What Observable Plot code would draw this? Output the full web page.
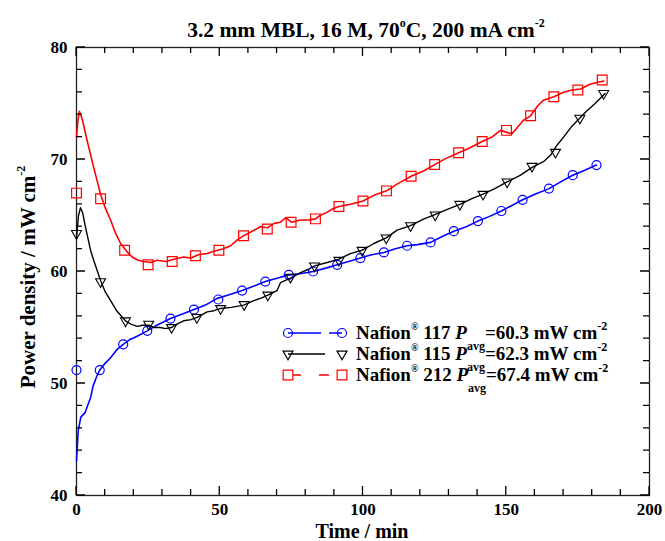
<!DOCTYPE html>
<html><head><meta charset="utf-8">
<script src="https://cdn.jsdelivr.net/npm/d3@7"></script>
<script src="https://cdn.jsdelivr.net/npm/@observablehq/plot@0.6"></script>
<style>body{margin:0;background:#fff} #chart svg{display:block}</style>
</head><body><div id="chart"></div>
<script>
// ---- data: [time (min), power density (mW cm-2)] ----
const n117Line = [[0,43.1],[0.3,44.5],[0.6,45.8],[1.5,47.0],[3,47.4],[3.7,47.9],[5,48.8],[5.7,49.7],[7,50.6],[8.1,51.2],[10,51.8],[11.9,52.3],[14,53.0],[16.3,53.5],[18.5,53.9],[21,54.2],[24.7,54.7],[28,55.2],[32.8,55.8],[37,56.2],[41,56.6],[45,57.0],[49.1,57.6],[53,57.9],[57.8,58.3],[62,58.7],[65.9,59.1],[70,59.4],[74.1,59.7],[78,59.8],[82.6,60.0],[87,60.3],[91,60.6],[95,60.9],[99.1,61.2],[103,61.5],[107.3,61.7],[111,62.0],[115.4,62.3],[119,62.4],[123.6,62.6],[127.5,63.1],[131.7,63.6],[136,64.0],[140.1,64.5],[144,64.9],[148.3,65.4],[152,65.9],[155.7,66.4],[160,66.9],[164.9,67.4],[169,68.0],[173.2,68.6],[177,69.0],[181.5,69.5]];
const n117Marks = [[0,51.2],[8.1,51.2],[16.3,53.5],[24.7,54.7],[32.8,55.8],[41,56.6],[49.5,57.5],[57.8,58.3],[65.9,59.1],[74.1,59.7],[82.6,60.0],[91,60.6],[99.1,61.2],[107.3,61.7],[115.4,62.3],[123.6,62.6],[131.7,63.6],[140.1,64.5],[148.3,65.4],[155.7,66.4],[164.9,67.4],[173.2,68.6],[181.5,69.5]];

const n115Line = [[0,63.0],[0.7,65.0],[1.4,65.7],[2.2,65.2],[3.1,64.0],[4.9,61.9],[6,61.0],[8.4,59.2],[10,58.2],[11.9,57.4],[14,56.5],[17.1,55.6],[19,55.3],[21.2,55.1],[23,55.2],[25.2,55.2],[27,55.0],[29.3,55.0],[31,54.9],[33.2,55.0],[35,55.3],[37.4,55.6],[40,55.7],[42.1,55.9],[45.6,56.4],[48,56.5],[50.3,56.7],[54,56.8],[58.4,57.0],[61.9,57.4],[64.2,57.6],[66.8,57.9],[70,58.3],[71.2,59.0],[74.7,59.4],[78.2,59.9],[81,60.2],[83.1,60.5],[87.5,60.8],[91.6,61.1],[95.6,61.6],[99.7,61.9],[103.8,62.5],[108.1,63.0],[111.9,63.7],[116.6,64.1],[121.3,64.7],[125.3,65.1],[129,65.5],[133.8,66.0],[138,66.5],[141.9,66.9],[146,67.4],[150.3,68.0],[155,68.6],[159,69.3],[163,69.8],[165.5,70.4],[167.5,71.2],[170,72.0],[173,73.0],[175.7,73.7],[178,74.3],[181,75.0],[184.5,75.9]];
const n115Marks = [[0,63.4],[8.4,59.1],[17.1,55.6],[25.2,55.3],[33.2,55.0],[42,55.9],[50.3,56.7],[58.5,57.05],[66.8,57.9],[74.7,59.5],[83.1,60.5],[91.6,61.0],[99.7,61.9],[108.1,63.0],[116.6,64.1],[125.2,65.05],[133.8,66.0],[141.9,66.9],[150.3,68.0],[159,69.4],[167.2,70.65],[175.7,73.7],[184,75.9]];

const n212Line = [[0,72.0],[0.5,73.5],[1,74.3],[2,73.6],[3.7,71.7],[6,69.3],[8.4,66.9],[10,65.7],[11.9,64.6],[13.5,63.5],[15.4,62.5],[17.5,61.8],[19.4,61.3],[21.5,61.0],[23.5,60.9],[26,60.8],[28,61.0],[31.3,60.9],[34,61.1],[37.4,61.3],[40,61.2],[42.5,61.5],[45.6,61.6],[48,61.8],[51,62.0],[53.8,62.3],[56,62.8],[58.4,63.2],[60.7,63.5],[64.2,64.0],[66.6,63.9],[69,64.3],[71.2,64.4],[73,64.8],[75,64.4],[78.2,64.6],[81,64.6],[83.4,64.7],[85,65.0],[87.5,65.3],[89.5,65.6],[91.6,65.8],[95.6,66.0],[100,66.3],[103.8,66.8],[108.2,67.2],[111.9,67.8],[116.8,68.5],[121.3,69.0],[124.7,69.5],[129,70.1],[133.4,70.6],[137,71.0],[141.6,71.6],[145,72.0],[148,72.6],[150.5,72.4],[152,72.3],[154,72.9],[156,73.5],[158.5,73.9],[161,74.8],[163,75.3],[166.6,75.6],[170,76.0],[173,76.2],[176,76.3],[179,76.7],[182,76.9],[184,77.0]];
const n212Marks = [[0,67.0],[8.4,66.5],[16.8,61.9],[25,60.6],[33.4,60.9],[41.5,61.4],[49.7,61.9],[58.3,63.2],[66.6,63.8],[74.9,64.4],[83.4,64.7],[91.6,65.8],[100,66.3],[108.2,67.2],[116.8,68.5],[125,69.55],[133.4,70.6],[141.6,71.6],[150.1,72.6],[158.5,73.9],[166.6,75.6],[175,76.2],[183.5,77.1]];

const xMajor = [0, 50, 100, 150, 200];
const xMinor = d3.range(0, 201, 10);
const yMajor = [40, 50, 60, 70, 80];
const yMinor = d3.range(40, 81, 2);

const seriesNames = ["117", "115", "212"];
const seriesAvg = ["60.3", "62.3", "67.4"];
const seriesColors = ["#0000ff", "#000000", "#ff0000"];

const titleParts = ["3.2 mm MBL, 16 M, 70", "o", "C, 200 mA cm", "-2"];
const xLabel = "Time / min";
const yLabelParts = ["Power density / mW cm", "-2"];

const FONT = "'Liberation Serif', 'Times New Roman', serif";
const W = 665, H = 541, ML = 76, MR = 16, MT = 47, MB = 46;
const MIN = 6, MAJ = 9;

const chart = Plot.plot({
  width: W, height: H,
  marginLeft: ML, marginRight: MR, marginTop: MT, marginBottom: MB,
  style: {fontFamily: FONT, fontWeight: "bold", fontSize: "17px", background: "#fff", color: "#000"},
  x: {domain: [0, 200]},
  y: {domain: [40, 80]},
  marks: [
    Plot.axisX({ticks: xMajor, tickSize: 0, tickPadding: 7, label: null, anchor: "bottom", fontSize: 17}),
    Plot.axisY({ticks: yMajor, tickSize: 0, tickPadding: 9, label: null, anchor: "left", fontSize: 17}),
    Plot.frame({stroke: "#222", strokeWidth: 1.3}),
    Plot.line(n117Line, {stroke: seriesColors[0], strokeWidth: 1.6}),
    Plot.line(n115Line, {stroke: seriesColors[1], strokeWidth: 1.4}),
    Plot.line(n212Line, {stroke: seriesColors[2], strokeWidth: 1.6}),
    Plot.dot(n117Marks, {symbol: "circle", r: 4.5, stroke: seriesColors[0], fill: "none", strokeWidth: 1.2}),
    Plot.dot(n115Marks, {symbol: "triangle", rotate: 180, r: 3.7, stroke: seriesColors[1], fill: "none", strokeWidth: 1.1}),
    Plot.dot(n212Marks, {symbol: "square", r: 5.5, stroke: seriesColors[2], fill: "none", strokeWidth: 1.2})
  ]
});
document.getElementById("chart").appendChild(chart);

const svg = d3.select(chart);

// inward tick marks on all four sides, placed with the plot's own scales
const xs = chart.scale("x"), ys = chart.scale("y");
const px = v => xs.apply(v), py = v => ys.apply(v);
const frameL = px(0), frameR = px(200), frameB = py(40), frameT = py(80);
const tg = svg.append("g").attr("stroke", "#000").attr("stroke-width", 1.3).attr("fill", "none");
xMinor.forEach(v => {
  const L = xMajor.includes(v) ? MAJ : MIN, xx = px(v);
  tg.append("path").attr("d", `M${xx},${frameB}V${frameB - L}M${xx},${frameT}V${frameT + L}`);
});
yMinor.forEach(v => {
  const L = yMajor.includes(v) ? MAJ : MIN, yy = py(v);
  tg.append("path").attr("d", `M${frameL},${yy}H${frameL + L}M${frameR},${yy}H${frameR - L}`);
});

const g = svg.append("g").attr("font-family", FONT).attr("font-weight", "bold").attr("fill", "#000");

// title
const tt = g.append("text").attr("x", 366).attr("y", 37).attr("text-anchor", "middle").attr("font-size", 21.5);
tt.append("tspan").text(titleParts[0]);
tt.append("tspan").attr("font-size", 12).attr("dy", -10).text(titleParts[1]);
tt.append("tspan").attr("dy", 10).text(titleParts[2]);
tt.append("tspan").attr("font-size", 12).attr("dy", -10).text(titleParts[3]);

// x label
g.append("text").attr("x", 362).attr("y", 538).attr("text-anchor", "middle").attr("font-size", 20).text(xLabel);

// y label
const yl = g.append("text").attr("transform", "translate(35,277) rotate(-90)").attr("text-anchor", "middle").attr("font-size", 21);
yl.append("tspan").text(yLabelParts[0]);
yl.append("tspan").attr("font-size", 12).attr("dy", -10).text(yLabelParts[1]);

// legend
const symTypes = [d3.symbolCircle, d3.symbolTriangle, d3.symbolSquare];
const symR = [4.5, 3.7, 5.5];
const symRot = [0, 180, 0];
const dashes = ["33,8,30", "37,30", "0,5,8,18,10,40"];
const ly0 = 333, ldy = 21, lx1 = 288, lx2 = 342, ltx = 356;
seriesNames.forEach((name, i) => {
  const y = ly0 + i * ldy;
  g.append("line").attr("x1", lx1).attr("x2", lx2).attr("y1", y).attr("y2", y)
    .attr("stroke", seriesColors[i]).attr("stroke-width", 1.5).attr("stroke-dasharray", dashes[i]);
  [lx1, lx2].forEach(x => {
    g.append("path").attr("d", d3.symbol(symTypes[i], Math.PI * symR[i] * symR[i])())
      .attr("transform", `translate(${x},${y}) rotate(${symRot[i]})`)
      .attr("fill", "none").attr("stroke", seriesColors[i]).attr("stroke-width", 1.2);
  });
  const t = g.append("text").attr("x", ltx).attr("y", y + 6).attr("font-size", 19).attr("text-anchor", "start");
  t.append("tspan").text("Nafion");
  t.append("tspan").attr("font-size", 10).attr("dy", -9).text("\u00AE");
  t.append("tspan").attr("dy", 9).text(" " + name + " ");
  t.append("tspan").attr("font-style", "italic").text("P");
  t.append("tspan").attr("font-size", 12).attr("dy", 11).text("avg");
  t.append("tspan").attr("dy", -11).text("=" + seriesAvg[i] + " mW cm");
  t.append("tspan").attr("font-size", 12).attr("dy", -9).text("-2");
});
</script>
</body></html>
